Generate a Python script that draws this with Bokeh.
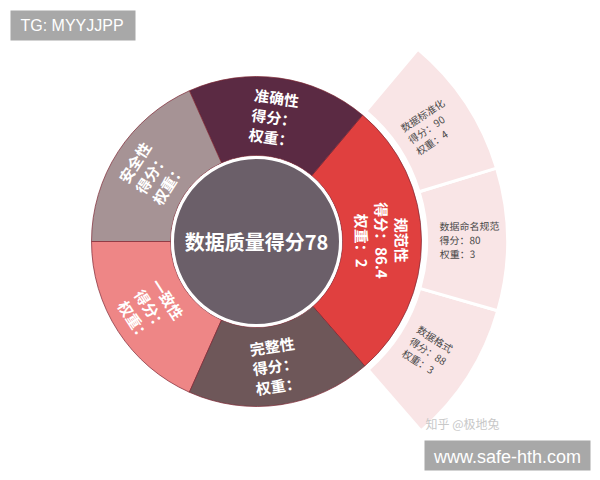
import numpy as np
from bokeh.plotting import figure
from bokeh.models import Range1d, ColumnDataSource
from bokeh.core.properties import value
from bokeh.embed import file_html
from bokeh.resources import INLINE

# ---------------- data ----------------
categories = ["规范性", "准确性", "安全性", "一致性", "完整性"]
shares = [99, 64, 66, 66, 65]            # angular share of each dimension
scores = ["86.4", "", "", "", ""]
weights = ["2", "", "", "", ""]
colors = ["#e0403f", "#5b2a43", "#a69395", "#ee8686", "#6e5759"]

sub_categories = ["数据格式", "数据命名规范", "数据标准化"]
sub_shares = [1, 1, 1]
sub_scores = ["88", "80", "90"]
sub_weights = ["3", "3", "4"]
sub_color = "#f9e5e6"

total_title = "数据质量得分"
total_score = 78

# ---------------- geometry ----------------
CX, CY = 256, 241          # centre in page pixels
R_CORE = 84
R_IN0, R_IN1 = 86, 165
R_OUT0, R_OUT1 = 170, 251
START = -49.0
W, H = 592, 472

FONT = value("Noto Sans CJK SC")

def px(x, y):
    return x - CX, CY - y

x0, y_top = px(0, 0)
x1, y_bot = px(W, H)

p = figure(width=W, height=H, x_range=Range1d(x0, x1), y_range=Range1d(y_bot, y_top),
           output_backend="svg", toolbar_location=None, min_border=0)
p.axis.visible = False
p.grid.visible = False
p.outline_line_color = None
p.background_fill_color = "white"

# inner ring
tot = float(sum(shares))
spans = np.array(shares) / tot * 360.0
ends = START + np.cumsum(spans)
starts = ends - spans
mids = (starts + ends) / 2

inner = ColumnDataSource(dict(start=starts, end=ends, color=colors))
p.annular_wedge(x=0, y=0, inner_radius=R_IN0, outer_radius=R_IN1,
                start_angle="start", end_angle="end", start_angle_units="deg", end_angle_units="deg",
                fill_color="color", line_color="#7d2633", line_width=1, line_alpha=0.7, source=inner)

# outer ring (children of 规范性)
s0, e0 = starts[0], ends[0]
sspan = np.array(sub_shares) / float(sum(sub_shares)) * (e0 - s0)
sends = s0 + np.cumsum(sspan)
sstarts = sends - sspan
smids = (sstarts + sends) / 2
outer = ColumnDataSource(dict(start=sstarts, end=sends))
p.annular_wedge(x=0, y=0, inner_radius=R_OUT0, outer_radius=R_OUT1,
                start_angle="start", end_angle="end", start_angle_units="deg", end_angle_units="deg",
                fill_color=sub_color, line_color="white", line_width=3, source=outer)

# core circle
p.circle(x=[0], y=[0], radius=R_CORE, fill_color="#6b5f69", line_color="white", line_width=3)

# inner labels (tangential)
r_lab = (R_IN0 + R_IN1) / 2
lx, ly, la, lt = [], [], [], []
for c, s, w, m in zip(categories, scores, weights, mids):
    rot = m - 90
    while rot <= -90:
        rot += 180
    while rot > 90:
        rot -= 180
    lx.append(r_lab * np.cos(np.radians(m)))
    ly.append(r_lab * np.sin(np.radians(m)))
    la.append(rot)
    lt.append(f"{c}\n得分：{s}\n权重：{w}")
p.text(x=lx, y=ly, text=lt, angle=la, angle_units="deg", text_align="center",
       text_baseline="middle", text_color="white", text_font=FONT, text_font_size="15px",
       text_font_style="bold", text_line_height=0.95)

# outer labels (radial)
r_sub = 183
ox = [r_sub * np.cos(np.radians(m)) for m in smids]
oy = [r_sub * np.sin(np.radians(m)) for m in smids]
ot = [f"{c}\n得分：{s}\n权重：{w}" for c, s, w in zip(sub_categories, sub_scores, sub_weights)]
p.text(x=ox, y=oy, text=ot, angle=list(smids), angle_units="deg", text_align="left",
       text_baseline="middle", text_color="#4a4a4a", text_font=FONT, text_font_size="10px",
       text_line_height=0.93)

# centre title
p.text(x=[0], y=[0], text=[f"{total_title}{total_score}"], text_align="center", text_baseline="middle",
       text_color="white", text_font=FONT, text_font_size="20px", text_font_style="bold")

# watermarks
bx0, by0 = px(10, 10); bx1, by1 = px(135, 40)
p.quad(left=[bx0], right=[bx1], top=[by0], bottom=[by1], fill_color="#a8a8a8", line_color=None)
tx, ty = px(20, 25)
p.text(x=[tx], y=[ty], text=["TG: MYYJJPP"], text_align="left", text_baseline="middle",
       text_color="white", text_font=value("Liberation Sans"), text_font_size="16px")

wx0, wy0 = px(424, 440); wx1, wy1 = px(590, 470)
p.quad(left=[wx0], right=[wx1], top=[wy0], bottom=[wy1], fill_color="#a8a8a8", line_color=None)
tx, ty = px(507, 456)
p.text(x=[tx], y=[ty], text=["www.safe-hth.com"], text_align="center", text_baseline="middle",
       text_color="white", text_font=value("Liberation Sans"), text_font_size="18px")

tx, ty = px(425, 423)
p.text(x=[tx], y=[ty], text=["知乎 @极地兔"], text_align="left", text_baseline="middle",
       text_color="#c8c8c8", text_font=FONT, text_font_size="12px")

open("out.html", "w").write(file_html(p, INLINE))
